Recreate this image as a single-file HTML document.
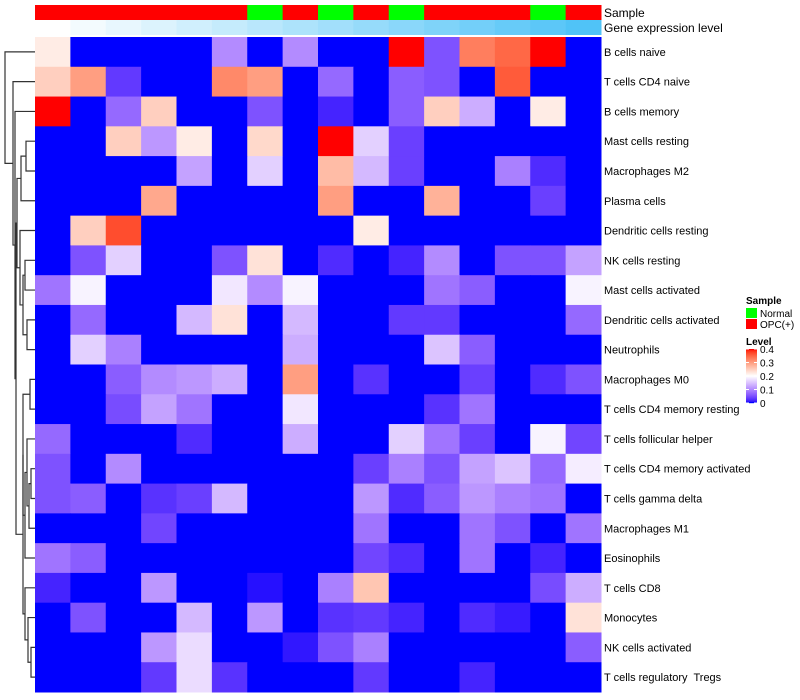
<!DOCTYPE html>
<html><head><meta charset="utf-8"><style>
body{margin:0;background:#fff;}
svg{display:block;font-family:"Liberation Sans",sans-serif;}
text{white-space:pre;}
</style></head><body>
<svg id="chart" width="800" height="700"></svg>
<script>
const rowLabels=["B cells naive","T cells CD4 naive","B cells memory","Mast cells resting","Macrophages M2","Plasma cells","Dendritic cells resting","NK cells resting","Mast cells activated","Dendritic cells activated","Neutrophils","Macrophages M0","T cells CD4 memory resting","T cells follicular helper","T cells CD4 memory activated","T cells gamma delta","Macrophages M1","Eosinophils","T cells CD8","Monocytes","NK cells activated","T cells regulatory  Tregs"];
const sampleGroups=["OPC(+)","OPC(+)","OPC(+)","OPC(+)","OPC(+)","OPC(+)","Normal","OPC(+)","Normal","OPC(+)","Normal","OPC(+)","OPC(+)","OPC(+)","Normal","OPC(+)"];
const geneLevels=[0,1,2,3,4,5,6,7,8,9,10,11,12,13,14,15];
const values=[
[0.22,0,0,0,0,0.1,0,0.1,0,0,0.4,0.05,0.33,0.35,0.4,0],
[0.25,0.3,0.03,0,0,0.32,0.3,0,0.07,0,0.06,0.05,0,0.36,0,0],
[0.4,0,0.07,0.25,0,0,0.05,0,0.015,0,0.06,0.25,0.13,0,0.22,0],
[0,0,0.25,0.11,0.22,0,0.24,0,0.4,0.16,0.035,0,0,0,0,0],
[0,0,0,0,0.12,0,0.16,0,0.27,0.14,0.035,0,0,0.09,0.02,0],
[0,0,0,0.29,0,0,0,0,0.3,0,0,0.28,0,0,0.035,0],
[0,0.25,0.37,0,0,0,0,0,0,0.22,0,0,0,0,0,0],
[0,0.05,0.16,0,0,0.05,0.23,0,0.02,0,0.015,0.1,0,0.05,0.05,0.12],
[0.08,0.19,0,0,0,0.18,0.1,0.19,0,0,0,0.08,0.06,0,0,0.19],
[0,0.07,0,0,0.14,0.23,0,0.14,0,0,0.03,0.03,0,0,0,0.07],
[0,0.16,0.09,0,0,0,0,0.13,0,0,0,0.15,0.06,0,0,0],
[0,0,0.06,0.1,0.11,0.13,0,0.3,0,0.025,0,0,0.035,0,0.02,0.05],
[0,0,0.045,0.12,0.08,0,0,0.18,0,0,0,0.025,0.08,0,0,0],
[0.07,0,0,0,0.02,0,0,0.13,0,0,0.16,0.08,0.035,0,0.19,0.04],
[0.05,0,0.1,0,0,0,0,0,0,0.035,0.09,0.05,0.12,0.15,0.07,0.185],
[0.05,0.06,0,0.025,0.035,0.14,0,0,0,0.11,0.02,0.06,0.11,0.09,0.08,0],
[0,0,0,0.04,0,0,0,0,0,0.08,0,0,0.08,0.05,0,0.08],
[0.08,0.06,0,0,0,0,0,0,0,0.04,0.02,0,0.08,0,0.015,0],
[0.015,0,0,0.11,0,0,0.005,0,0.09,0.26,0,0,0,0,0.045,0.13],
[0,0.05,0,0,0.14,0,0.11,0,0.025,0.03,0.015,0,0.02,0.01,0,0.23],
[0,0,0,0.11,0.17,0,0,0.008,0.05,0.09,0,0,0,0,0,0.06],
[0,0,0,0.03,0.17,0.025,0,0,0,0.03,0,0,0.015,0,0,0]];
const legendTicks=[0,0.1,0.2,0.3,0.4];
const merges=[[3,4,26],[["n0"],5,21],[7,8,25],[9,10,27],[["n2"],["n3"],23],[6,["n4"],20],[["n1"],["n5"],17],
[11,12,30],[14,15,31],[["n8"],16,29],[13,["n9"],27],[["n10"],17,25],[["n7"],["n11"],23],[20,21,31],[19,["n13"],28],[18,["n14"],25],[["n12"],["n15"],23],[["n6"],["n16"],16],[2,["n17"],15],[1,["n18"],13],[0,["n19"],5]];

const NS="http://www.w3.org/2000/svg";
const svg=document.getElementById('chart');
function mk(t,a,p){const e=document.createElementNS(NS,t);for(const k in a)e.setAttribute(k,a[k]);(p||svg).appendChild(e);return e;}
const X0=35,X1=601,Y0=37,Y1=692;
const nC=values[0].length,nR=values.length;
const cw=(X1-X0)/nC,rh=(Y1-Y0)/nR;
const xS=c=>X0+c*cw, yS=r=>Y0+r*rh;
function toLab(r,g,b){const f=c=>{c/=255;return c>0.04045?Math.pow((c+0.055)/1.055,2.4):c/12.92};let R=f(r),G=f(g),B=f(b);
let x=(R*0.4124+G*0.3576+B*0.1805)/0.95047,y=R*0.2126+G*0.7152+B*0.0722,z=(R*0.0193+G*0.1192+B*0.9505)/1.08883;
const h=t=>t>0.008856?Math.cbrt(t):7.787*t+16/116;x=h(x);y=h(y);z=h(z);return[116*y-16,500*(x-y),200*(y-z)];}
function fromLab(L,a,bb){let y=(L+16)/116,x=a/500+y,z=y-bb/200;const h=t=>t*t*t>0.008856?t*t*t:(t-16/116)/7.787;
x=h(x)*0.95047;y=h(y);z=h(z)*1.08883;let R=x*3.2406+y*-1.5372+z*-0.4986,G=x*-0.9689+y*1.8758+z*0.0415,B=x*0.0557+y*-0.2040+z*1.0570;
const g=c=>{c=c>0.0031308?1.055*Math.pow(c,1/2.4)-0.055:12.92*c;return Math.round(Math.max(0,Math.min(1,c))*255)};return `rgb(${g(R)},${g(G)},${g(B)})`;}
const LB=toLab(0,0,255),LW=toLab(255,255,255),LR=toLab(255,0,0);
function color(v){v=Math.max(0,Math.min(0.4,v));let a,b,t;if(v<=0.2){a=LB;b=LW;t=v/0.2}else{a=LW;b=LR;t=(v-0.2)/0.2}
return fromLab(a[0]+(b[0]-a[0])*t,a[1]+(b[1]-a[1])*t,a[2]+(b[2]-a[2])*t);}
sampleGroups.forEach((s,c)=>{const e=mk('rect',{x:xS(c),y:5,width:cw+0.5,height:15,fill:s==="Normal"?"#00FF00":"#FF0000"});
});
geneLevels.forEach((g,c)=>{const t=g/15;const r=Math.round(255+(80-255)*t),gg=Math.round(255+(195-255)*t),b=Math.round(255+(247-255)*t);
const e=mk('rect',{x:xS(c),y:20,width:cw+0.5,height:15,fill:`rgb(${r},${gg},${b})`});
});
let t1=mk('text',{x:604,y:17,'font-size':12});t1.textContent="Sample";
let t2=mk('text',{x:604,y:32,'font-size':12});t2.textContent="Gene expression level";
values.forEach((row,r)=>row.forEach((v,c)=>{const e=mk('rect',{x:xS(c),y:yS(r),width:cw+0.5,height:rh+0.5,fill:color(v)});
}));
rowLabels.forEach((l,r)=>{const e=mk('text',{x:604,y:yS(r)+rh/2+4,'font-size':11});e.textContent=l;
});
const nodeY={};const g=mk('g',{stroke:'#333','stroke-width':1.2,fill:'none'});
function pos(k){if(Array.isArray(k)){return nodeY[k[0]];}return {y:yS(k)+rh/2,x:X0};}
merges.forEach((m,i)=>{const a=pos(m[0]),b=pos(m[1]),x=m[2];
mk('path',{d:`M${a.x},${a.y}H${x}V${b.y}H${b.x}`},g);nodeY["n"+i]={x:x,y:(a.y+b.y)/2};});
let lg=mk('g',{});
let ls=mk('text',{x:746,y:304,'font-size':10,'font-weight':'bold'},lg);ls.textContent="Sample";
[["Normal","#00FF00"],["OPC(+)","#FF0000"]].forEach((d,i)=>{const r=mk('rect',{x:746,y:308+i*11,width:11,height:10,fill:d[1]},lg);

const t=mk('text',{x:760,y:317+i*11,'font-size':10},lg);t.textContent=d[0];});
let ll=mk('text',{x:746,y:345,'font-size':10,'font-weight':'bold'},lg);ll.textContent="Level";
const gy0=349,gy1=403;
for(let i=0;i<54;i++){const v=0.4*(1-i/53);mk('rect',{x:746,y:gy0+i,width:11,height:1.2,fill:color(v)},lg);}
legendTicks.forEach(v=>{const y=gy1-(v/0.4)*(gy1-gy0);mk('line',{x1:746,x2:749,y1:y,y2:y,stroke:'#fff'},lg);mk('line',{x1:754,x2:757,y1:y,y2:y,stroke:'#fff'},lg);
const t=mk('text',{x:760,y:y+4,'font-size':10},lg);t.textContent=v===0?"0":String(v);});
</script>
</body></html>
